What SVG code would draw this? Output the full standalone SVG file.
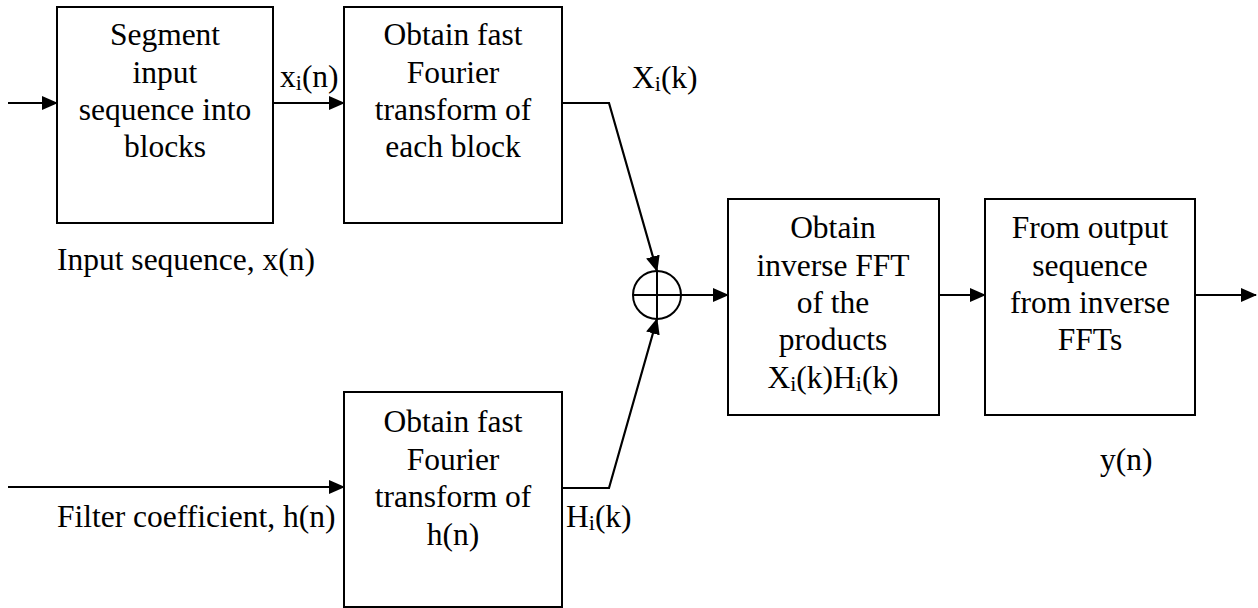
<svg xmlns="http://www.w3.org/2000/svg" width="1258" height="608" viewBox="0 0 1258 608">
<style>
.box{fill:#fff;stroke:#000;stroke-width:2}
.t{font-family:"Liberation Serif","Times New Roman",serif;font-size:31.5px;fill:#000;text-anchor:middle}
.l{font-family:"Liberation Serif","Times New Roman",serif;font-size:31.5px;fill:#000}
.c{fill:none;stroke:#000;stroke-width:2.2}
.sub{font-size:22px}
</style>
<defs>
<marker id="ah" markerUnits="userSpaceOnUse" markerWidth="16" markerHeight="14" refX="15" refY="7" orient="auto">
<path d="M0,0 L16,7 L0,14 Z" fill="#000"/>
</marker>
</defs>
<g id="connectors">
<line class="c" x1="8" y1="103" x2="57" y2="103" marker-end="url(#ah)"/>
<line class="c" x1="273" y1="103" x2="344" y2="103" marker-end="url(#ah)"/>
<polyline class="c" points="562,103 609,103 657,271" marker-end="url(#ah)"/>
<polyline class="c" points="562,488 609,488 657,319" marker-end="url(#ah)"/>
<line class="c" x1="8" y1="487" x2="344" y2="487" marker-end="url(#ah)"/>
<line class="c" x1="681" y1="295" x2="728" y2="295" marker-end="url(#ah)"/>
<line class="c" x1="939" y1="295" x2="985" y2="295" marker-end="url(#ah)"/>
<line class="c" x1="1195" y1="295" x2="1256" y2="295" marker-end="url(#ah)"/>
</g>
<g id="segment">
<rect class="box" x="57" y="7" width="216" height="216"/>
<text class="t" x="165" y="45">Segment</text>
<text class="t" x="165" y="83">input</text>
<text class="t" x="165" y="120">sequence into</text>
<text class="t" x="165" y="157">blocks</text>
</g>
<g id="fft-x">
<rect class="box" x="344" y="7" width="218" height="216"/>
<text class="t" x="453" y="45">Obtain fast</text>
<text class="t" x="453" y="83">Fourier</text>
<text class="t" x="453" y="120">transform of</text>
<text class="t" x="453" y="157">each block</text>
</g>
<g id="fft-h">
<rect class="box" x="344" y="392" width="218" height="215"/>
<text class="t" x="453" y="432">Obtain fast</text>
<text class="t" x="453" y="470">Fourier</text>
<text class="t" x="453" y="507">transform of</text>
<text class="t" x="453" y="545">h(n)</text>
</g>
<g id="multiplier">
<circle cx="657" cy="295" r="24" fill="#fff" stroke="#000" stroke-width="2"/>
<line x1="633" y1="295" x2="681" y2="295" stroke="#000" stroke-width="2"/>
<line x1="657" y1="271" x2="657" y2="319" stroke="#000" stroke-width="2"/>
</g>
<g id="ifft">
<rect class="box" x="728" y="199" width="211" height="216"/>
<text class="t" x="833" y="238">Obtain</text>
<text class="t" x="833" y="276">inverse FFT</text>
<text class="t" x="833" y="313">of the</text>
<text class="t" x="833" y="350">products</text>
<text class="t" x="833" y="388">X<tspan class="sub" dy="3">i</tspan><tspan dy="-3">(k)H</tspan><tspan class="sub" dy="3">i</tspan><tspan dy="-3">(k)</tspan></text>
</g>
<g id="output">
<rect class="box" x="985" y="199" width="210" height="216"/>
<text class="t" x="1090" y="238">From output</text>
<text class="t" x="1090" y="276">sequence</text>
<text class="t" x="1090" y="313">from inverse</text>
<text class="t" x="1090" y="350">FFTs</text>
</g>
<g id="labels">
<text class="l" x="280" y="87">x<tspan class="sub" dy="3">i</tspan><tspan dy="-3">(n)</tspan></text>
<text class="l" x="632" y="88">X<tspan class="sub" dy="3">i</tspan><tspan dy="-3">(k)</tspan></text>
<text class="l" x="57" y="270">Input sequence, x(n)</text>
<text class="l" x="57" y="527">Filter coefficient, h(n)</text>
<text class="l" x="566" y="527">H<tspan class="sub" dy="3">i</tspan><tspan dy="-3">(k)</tspan></text>
<text class="l" x="1100" y="470">y(n)</text>
</g>
</svg>
